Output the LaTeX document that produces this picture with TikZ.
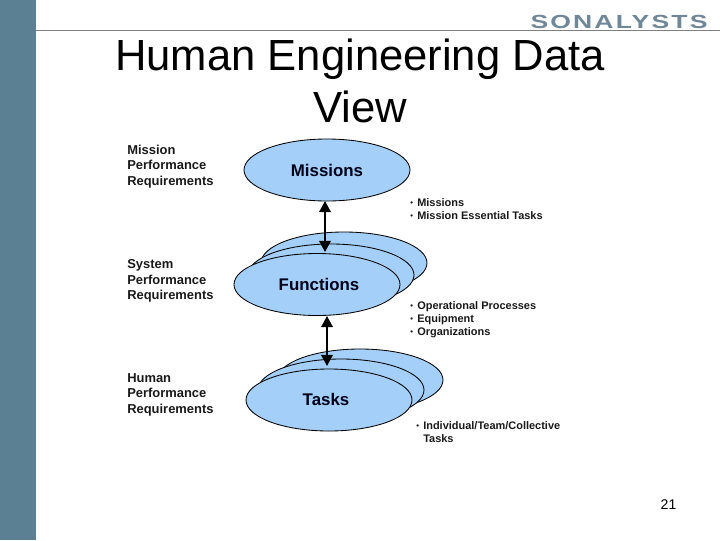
\documentclass[tikz,border=0pt]{standalone}
\usepackage{fontspec}
\setmainfont{Liberation Sans}
\usetikzlibrary{shapes.geometric,arrows.meta}
\definecolor{bandblue}{HTML}{5B8094}
\definecolor{ovalblue}{HTML}{A3CFF8}
\definecolor{logogrey}{HTML}{6F8796}
\newcommand{\dotitem}[1]{\makebox[7\unitlength][l]{\raisebox{.1em}{\fontsize{5.5}{5.5}\selectfont •}}#1}
\setlength{\unitlength}{.711pt}
\begin{document}
\begin{tikzpicture}[x=.025cm,y=-.025cm,
		oval/.style={ellipse,draw=black,line width=.6pt,fill=ovalblue,inner sep=0,minimum width=166*.025cm,minimum height=62*.025cm,font=\bfseries\fontsize{12}{14}\selectfont,text=black!90!blue},
		sidelabel/.style={anchor=west,align=left,inner sep=0,font=\bfseries\fontsize{9.2}{11}\selectfont,text=black!90},
		bulletlabel/.style={anchor=west,align=left,inner sep=0,font=\bfseries\fontsize{7.8}{9.3}\selectfont,text=black!90},
		link/.style={<->,>={Triangle[length=.28cm,width=.29cm]},line width=1.4pt}]
	\useasboundingbox (0,0) rectangle (720,540);
	\fill[bandblue] (0,0) rectangle (36,540);
	\draw[black!50,line width=.7pt] (36,30)--(720,30);
	\node[text=logogrey,inner sep=0,xscale=1.4] (logo) at (619,22) {\bfseries\fontsize{13.5}{14}\selectfont\addfontfeature{LetterSpace=8}SONALYSTS};
	\node[align=center,inner sep=0,font=\fontsize{31}{36.4}\selectfont] (title) at (360,81) {Human Engineering Data\\View};
	% Ba nhom elip
	\node[oval] (missions) at (327,170) {Missions};
	\node[oval] (functionsBack) at (344,263) {};
	\node[oval] (functionsMid) at (331,275) {};
	\node[oval] (functions) at (317,284.5) {\hspace*{4\unitlength}\raisebox{-1.5pt}{Functions}};
	\node[oval] (tasksBack) at (360,380) {};
	\node[oval] (tasksMid) at (341,390) {};
	\node[oval] (tasks) at (329,400) {\raisebox{1.4pt}{Tasks}\hspace*{6\unitlength}};
	% Hai mui ten
	\coordinate (missionsEnd) at (325,201);
	\coordinate (functionsTop) at (325,252);
	\coordinate (functionsEnd) at (327,316);
	\coordinate (tasksTop) at (327,366);
	\draw[link] (missionsEnd)--(functionsTop);
	\draw[link] (functionsEnd)--(tasksTop);
	% Chu hai ben
	\node[sidelabel] (missionReq) at (127,166.5) {Mission\\Performance\\Requirements};
	\node[sidelabel] (systemReq) at (127,281) {System\\Performance\\Requirements};
	\node[sidelabel] (humanReq) at (127,394.5) {Human\\Performance\\Requirements};
	\node[bulletlabel] (missionList) at (410,209) {\dotitem{Missions}\\\dotitem{Mission Essential Tasks}};
	\node[bulletlabel] (functionList) at (410,320) {\dotitem{Operational Processes}\\\dotitem{Equipment}\\\dotitem{Organizations}};
	\node[bulletlabel] (taskList) at (416,432) {\dotitem{Individual/Team/Collective}\\\hspace*{7\unitlength}Tasks};
	\node[inner sep=0,font=\fontsize{10}{12}\selectfont] (pageNo) at (668.5,505) {21};
\end{tikzpicture}
\end{document}
